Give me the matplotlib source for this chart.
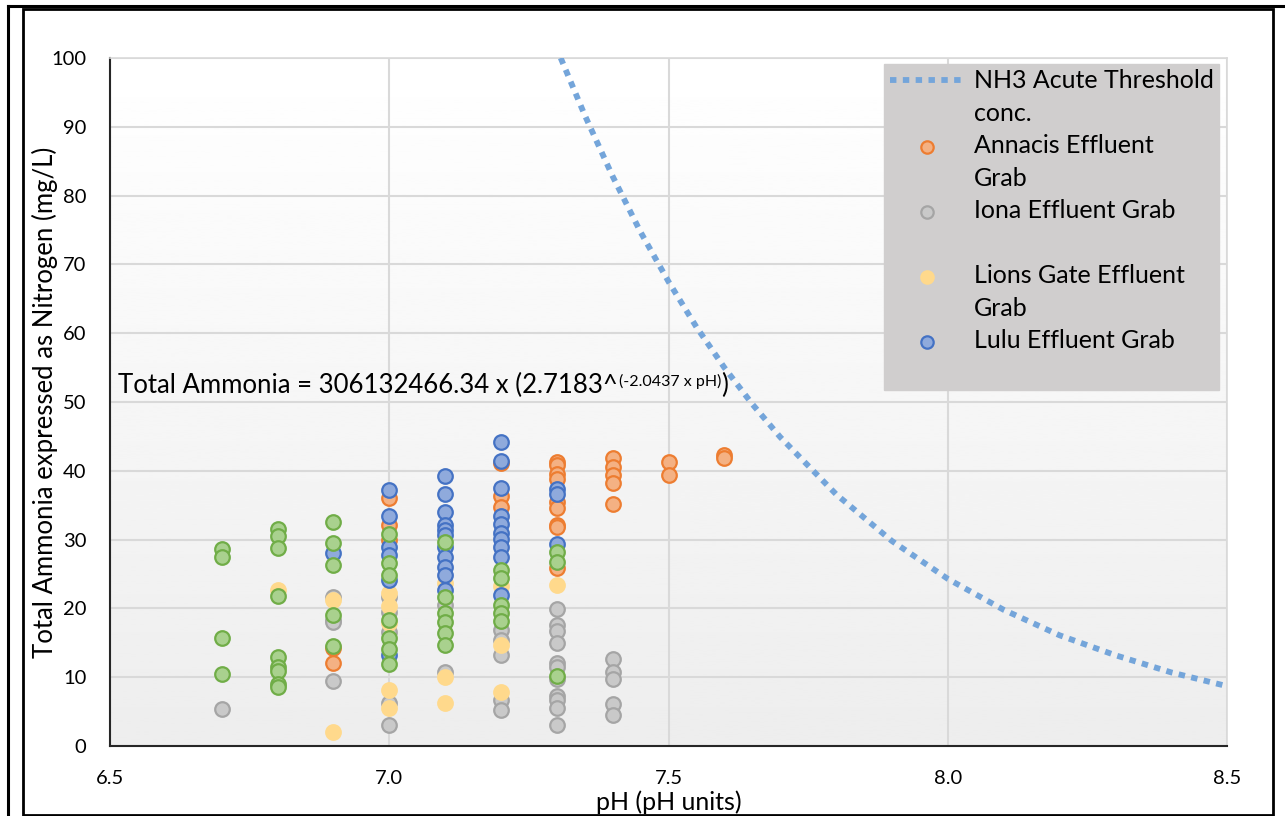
import numpy as np
import matplotlib
matplotlib.use('Agg')
import matplotlib.pyplot as plt
from matplotlib.lines import Line2D
from matplotlib.patches import Rectangle

plt.rcParams['font.family'] = ['Lato', 'DejaVu Sans']

# NH3 acute threshold curve
threshold_ph = [7.307, 7.35, 7.4, 7.45, 7.5, 7.55, 7.6, 7.65, 7.7, 7.8,
                7.9, 8.0, 8.1, 8.2, 8.3, 8.4, 8.5]
threshold_val = [100.0, 91.7, 82.8, 74.7, 67.5, 60.9, 55.0, 49.7, 44.9, 36.6,
                 29.8, 24.3, 19.8, 16.1, 13.2, 10.7, 8.7]

# Annacis Effluent Grab
annacis_ph = [6.9, 6.9,
              7.0, 7.0, 7.0,
              7.2, 7.2, 7.2,
              7.3, 7.3, 7.3, 7.3, 7.3, 7.3, 7.3, 7.3, 7.3,
              7.4, 7.4, 7.4, 7.4, 7.4,
              7.5, 7.5,
              7.6, 7.6]
annacis_val = [14.3, 12.1,
               36.0, 32.1, 29.9,
               41.1, 36.3, 34.8,
               41.3, 40.8, 39.6, 38.8, 35.5, 34.6, 32.1, 31.8, 25.9,
               41.9, 40.6, 39.4, 38.2, 35.2,
               41.3, 39.4,
               42.3, 41.9]

# Iona Effluent Grab
iona_ph = [6.7,
           6.9, 6.9, 6.9, 6.9,
           7.0, 7.0, 7.0, 7.0, 7.0,
           7.1, 7.1,
           7.2, 7.2, 7.2, 7.2, 7.2,
           7.3, 7.3, 7.3, 7.3, 7.3, 7.3, 7.3, 7.3, 7.3, 7.3, 7.3,
           7.4, 7.4, 7.4, 7.4, 7.4]
iona_val = [5.4,
            21.7, 18.3, 18.0, 9.5,
            21.7, 19.5, 16.6, 6.2, 3.0,
            20.5, 10.8,
            16.9, 15.4, 13.2, 6.7, 5.2,
            19.9, 17.6, 16.7, 15.0, 12.1, 11.5, 9.7, 7.3, 6.7, 5.5, 3.1,
            12.6, 10.8, 9.7, 6.1, 4.5]

# Lions Gate Effluent Grab
lions_ph = [6.8,
            6.9, 6.9,
            7.0, 7.0, 7.0, 7.0, 7.0,
            7.1, 7.1, 7.1,
            7.2, 7.2, 7.2,
            7.3]
lions_val = [22.7,
             21.2, 2.0,
             22.2, 20.3, 17.9, 8.2, 5.5,
             23.7, 10.0, 6.2,
             23.2, 14.7, 7.8,
             23.4]

# Lulu Effluent Grab
lulu_ph = [6.9,
           7.0, 7.0, 7.0, 7.0, 7.0, 7.0,
           7.1, 7.1, 7.1, 7.1, 7.1, 7.1, 7.1, 7.1, 7.1, 7.1, 7.1,
           7.2, 7.2, 7.2, 7.2, 7.2, 7.2, 7.2, 7.2, 7.2, 7.2,
           7.3, 7.3, 7.3]
lulu_val = [28.1,
            37.2, 33.4, 28.9, 27.8, 24.1, 13.2,
            39.2, 36.6, 34.0, 32.1, 31.4, 30.7, 28.9, 27.5, 26.0, 24.8, 22.7,
            44.2, 41.4, 37.5, 33.4, 32.3, 31.0, 30.1, 28.9, 27.5, 21.9,
            37.3, 36.6, 29.4]

# unlabelled green series (not in the legend)
green_ph = [6.7, 6.7, 6.7, 6.7,
            6.8, 6.8, 6.8, 6.8, 6.8, 6.8, 6.8, 6.8, 6.8,
            6.9, 6.9, 6.9, 6.9, 6.9,
            7.0, 7.0, 7.0, 7.0, 7.0, 7.0, 7.0,
            7.1, 7.1, 7.1, 7.1, 7.1, 7.1,
            7.2, 7.2, 7.2, 7.2, 7.2,
            7.3, 7.3, 7.3]
green_val = [28.6, 27.5, 15.7, 10.5,
             31.5, 30.5, 28.8, 21.8, 12.9, 11.5, 10.9, 9.0, 8.6,
             32.6, 29.5, 26.3, 19.0, 14.5,
             30.8, 26.6, 24.8, 18.3, 15.7, 14.1, 11.9,
             29.7, 21.7, 19.4, 18.0, 16.4, 14.7,
             25.6, 24.4, 20.5, 19.3, 18.1,
             28.2, 26.8, 10.2]

x_ticks = [6.5, 7.0, 7.5, 8.0, 8.5]
x_tick_labels = ['6.5', '7.0', '7.5', '8.0', '8.5']
y_ticks = list(range(0, 101, 10))


fig = plt.figure(figsize=(12.85, 8.16), dpi=100)
ax = fig.add_axes([110 / 1285, 70 / 816, 1117 / 1285, 688 / 816])

# light vertical gradient in the plot area
grad = np.linspace(1.0, 0.93, 256).reshape(-1, 1)
ax.imshow(grad, extent=[0, 1, 0, 1], transform=ax.transAxes, cmap='gray',
          vmin=0, vmax=1, aspect='auto', zorder=0)

ax.set_xlim(6.5, 8.5)
ax.set_ylim(0, 100)
ax.set_xticks(x_ticks)
ax.set_xticklabels(x_tick_labels)
ax.set_yticks(y_ticks)
ax.tick_params(length=0, labelsize=14.5, colors='black')
ax.tick_params(axis='x', pad=17)
ax.tick_params(axis='y', pad=17)
ax.grid(True, color='#d9d9d9', linewidth=1.5, zorder=1)
ax.set_axisbelow(True)
for side in ['left', 'bottom']:
    ax.spines[side].set_color('#262626')
    ax.spines[side].set_linewidth(1.5)
for side in ['top', 'right']:
    ax.spines[side].set_color('#d9d9d9')
    ax.spines[side].set_linewidth(1.2)

thr_line, = ax.plot(threshold_ph, threshold_val, color='#74a5da', linewidth=4.2,
                    dashes=(1.1, 1.1), dash_capstyle='butt', zorder=3)

ms = 110
ann = ax.scatter(annacis_ph, annacis_val, s=ms, facecolor='#f4b183',
                 edgecolor='#ed7d31', linewidth=1.6, zorder=4)
iona = ax.scatter(iona_ph, iona_val, s=ms, facecolor='#c9c9c9',
                  edgecolor='#a5a5a5', linewidth=1.6, zorder=4)
lions = ax.scatter(lions_ph, lions_val, s=ms, facecolor='#ffd98c',
                   edgecolor='#ffd98c', linewidth=1.6, zorder=4)
lulu = ax.scatter(lulu_ph, lulu_val, s=ms, facecolor='#8faadc',
                  edgecolor='#4472c4', linewidth=1.6, zorder=4)
ax.scatter(green_ph, green_val, s=ms, facecolor='#a9d18e',
           edgecolor='#70ad47', linewidth=1.6, zorder=4)

# equation label, superscript placed after the main text
eq = ax.text(6.514, 51.3, 'Total Ammonia = 306132466.34 x (2.7183^',
             fontsize=18.5, va='baseline', ha='left', zorder=5)
sup = ax.annotate('(-2.0437 x pH)', xy=(1, 1), xycoords=eq,
                  xytext=(1, -1), textcoords='offset points',
                  fontsize=11.5, va='top', ha='left', zorder=5)
ax.annotate(')', xy=(1, 0), xycoords=(sup, eq), fontsize=18.5,
            va='bottom', ha='left', zorder=5)

ax.set_xlabel('pH (pH units)', fontsize=18)
ax.set_ylabel('Total Ammonia expressed as Nitrogen (mg/L)', fontsize=18.5)
ax.xaxis.set_label_coords(0.5, -0.064)
ax.yaxis.set_label_coords(-0.047, 0.5)

# legend rows: wrapped labels go on their own rows, last row is the
# empty slot of the hidden green series
blank = Line2D([], [], linestyle='none', marker='none')
handles = [thr_line, blank, ann, blank, iona, blank, lions, blank, lulu, blank]
labels = ['NH3 Acute Threshold', 'conc.', 'Annacis Effluent', 'Grab',
          'Iona Effluent Grab', ' ', 'Lions Gate Effluent', 'Grab',
          'Lulu Effluent Grab', ' ']
leg = ax.legend(handles, labels, loc='upper right',
                bbox_to_anchor=(0.9928, 0.9913), fontsize=18, frameon=True,
                fancybox=False, facecolor='#d0cece', edgecolor='#d0cece',
                framealpha=1, handlelength=3.0, handletextpad=0.36,
                labelspacing=0.38, borderpad=0.22, borderaxespad=0,
                markerscale=0.85)
leg.set_zorder(6)

# outer frame lines of the figure
fig.add_artist(Rectangle((23 / 1285, 1 / 816), 1250 / 1285, 806 / 816,
                         transform=fig.transFigure, fill=False,
                         edgecolor='black', linewidth=2))
fig.add_artist(Line2D([8 / 1285, 1.0], [810 / 816, 810 / 816],
                      transform=fig.transFigure, color='black', linewidth=2.2))
fig.add_artist(Line2D([8 / 1285, 8 / 1285], [0, 810 / 816],
                      transform=fig.transFigure, color='black', linewidth=2.2))

fig.savefig('out.png', dpi=100)
plt.close(fig)
